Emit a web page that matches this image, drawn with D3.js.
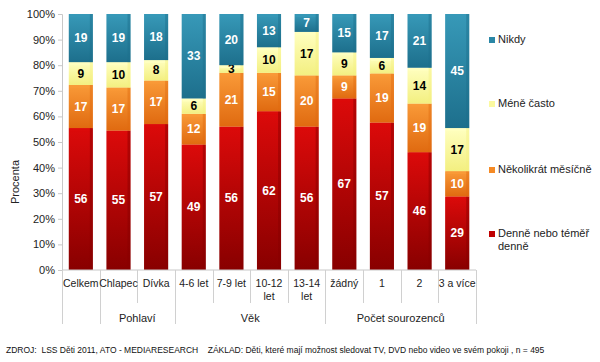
<!DOCTYPE html>
<html>
<head>
<meta charset="utf-8">
<script src="https://cdn.jsdelivr.net/npm/d3@7"></script>
<style>
body{margin:0;background:#fff;}
text{font-family:"Liberation Sans",Arial,sans-serif;}
</style>
</head>
<body>
<div id="chart"></div>
<script>
// categories (line breaks with |)
var categories = ["Celkem","Chlapec","Dívka","4-6 let","7-9 let","10-12|let","13-14|let","žádný","1","2","3 a více"];
var groups = [
	{name:"", from:0, to:0},
	{name:"Pohlaví", from:1, to:2},
	{name:"Věk", from:3, to:6},
	{name:"Počet sourozenců", from:7, to:10}
];
var seriesNames = ["Denně nebo téměř|denně","Několikrát měsíčně","Méně často","Nikdy"];
var denne      = [56,55,57,49,56,62,56,67,57,46,29];
var nekolikrat = [17,17,17,12,21,15,20,9,19,19,10];
var mene       = [9,10,8,6,3,10,17,9,6,14,17];
var nikdy      = [19,19,18,33,20,13,7,15,17,21,45];
var yTicks = [0,0.1,0.2,0.3,0.4,0.5,0.6,0.7,0.8,0.9,1];

var W=600,H=362;
var mLeft=62,mRight=476,mTop=14,mBottom=270;

var svg = d3.select("#chart").append("svg").attr("width",W).attr("height",H);
var defs = svg.append("defs");

var colors = [
	{id:"gRed", light:"#dc0a0a", dark:"#880000", mid:"#c00000", label:"#fff"},
	{id:"gOr", light:"#f99a38", dark:"#e06a10", mid:"#f58a25", label:"#fff"},
	{id:"gYe", light:"#ffffc0", dark:"#f3ef80", mid:"#fbf9a0", label:"#000"},
	{id:"gTe", light:"#3799b8", dark:"#1d6f8c", mid:"#2a87a6", label:"#fff"}
];
colors.forEach(function(c){
	var g = defs.append("linearGradient").attr("id",c.id).attr("x1",0).attr("y1",0).attr("x2",0).attr("y2",1);
	g.append("stop").attr("offset","0%").attr("stop-color",c.light);
	g.append("stop").attr("offset","100%").attr("stop-color",c.dark);
});

// data table for the stack
var table = categories.map(function(c,i){
	return {cat:c, s0:denne[i], s1:nekolikrat[i], s2:mene[i], s3:nikdy[i]};
});
var keys = ["s0","s1","s2","s3"];
var stacked = d3.stack().keys(keys).offset(d3.stackOffsetExpand)(table);

var x = d3.scaleBand().domain(categories).range([mLeft,mRight]).paddingInner(0.36).paddingOuter(0.18);
var y = d3.scaleLinear().domain([0,1]).range([mBottom,mTop]);

// y axis
var yAxis = svg.append("g").attr("transform","translate("+mLeft+",0)")
	.call(d3.axisLeft(y).tickValues(yTicks).tickFormat(d3.format(".0%")).tickSize(4).tickPadding(3));
yAxis.select(".domain").attr("stroke","#c8c8c8");
yAxis.selectAll(".tick line").attr("stroke","#c8c8c8");
yAxis.selectAll("text").attr("font-size","11px").attr("fill","#222").attr("font-family","Liberation Sans, Arial, sans-serif");

svg.append("text").attr("transform","translate(19,182) rotate(-90)")
	.attr("text-anchor","middle").attr("font-size","11px").attr("fill","#222").text("Procenta");

// bars
var layers = svg.selectAll(".layer").data(stacked).enter().append("g").attr("class","layer");
layers.each(function(s,si){
	var c = colors[si];
	var g = d3.select(this);
	g.selectAll("rect.seg").data(s).enter().append("rect").attr("class","seg")
		.attr("x",function(d){return x(d.data.cat);})
		.attr("width",x.bandwidth())
		.attr("y",function(d){return y(d[1]);})
		.attr("height",function(d){return y(d[0])-y(d[1]);})
		.attr("fill","url(#"+c.id+")");
	// small highlight at top of each segment
	g.selectAll("rect.cap").data(s).enter().append("rect").attr("class","cap")
		.attr("x",function(d){return x(d.data.cat)+1;})
		.attr("width",x.bandwidth()-2)
		.attr("y",function(d){return y(d[1]);})
		.attr("height",3)
		.attr("fill",c.light).attr("opacity",0.8);
	// side shading
	g.selectAll("rect.side").data(s).enter().append("rect").attr("class","side")
		.attr("x",function(d){return x(d.data.cat)+x.bandwidth()-3;})
		.attr("width",3)
		.attr("y",function(d){return y(d[1]);})
		.attr("height",function(d){return y(d[0])-y(d[1]);})
		.attr("fill",c.dark).attr("opacity",0.45);
	g.selectAll("text").data(s).enter().append("text")
		.attr("x",function(d){return x(d.data.cat)+x.bandwidth()/2;})
		.attr("y",function(d){return (y(d[0])+y(d[1]))/2+4;})
		.attr("text-anchor","middle").attr("font-size","12px").attr("font-weight","bold")
		.attr("fill",c.label)
		.text(function(d){return d.data[keys[si]];});
});

// bottom axis line and category dividers
var step = x.step();
svg.append("line").attr("x1",mLeft).attr("x2",mRight).attr("y1",mBottom).attr("y2",mBottom).attr("stroke","#c8c8c8");
var groupEdges = {};
groups.forEach(function(g){groupEdges[g.from]=true;});
d3.range(categories.length+1).forEach(function(i){
	var xx = Math.round(mLeft+i*step)+0.5;
	var long = groupEdges[i] || i==categories.length;
	svg.append("line").attr("x1",xx).attr("x2",xx).attr("y1",mBottom).attr("y2",long?324:303)
		.attr("stroke","#d0d0d0");
});

// category labels
categories.forEach(function(c,i){
	var t = svg.append("text").attr("x",x(c)+x.bandwidth()/2).attr("y",287)
		.attr("text-anchor","middle").attr("font-size","10.5px").attr("fill","#222");
	c.split("|").forEach(function(line,li){
		t.append("tspan").attr("x",x(c)+x.bandwidth()/2).attr("dy",li?13:0).text(line);
	});
});

// group labels
groups.forEach(function(g){
	if(!g.name) return;
	var cx = mLeft+(g.from+g.to+1)/2*step;
	svg.append("text").attr("x",cx).attr("y",322).attr("text-anchor","middle")
		.attr("font-size","11px").attr("fill","#222").text(g.name);
});

// legend
var legY = [43,107,173,237];
seriesNames.slice().reverse().forEach(function(n,k){
	var si = 3-k;
	var c = colors[si];
	var ly = legY[k];
	svg.append("rect").attr("x",489).attr("y",ly-6).attr("width",6).attr("height",6).attr("fill",c.mid);
	var t = svg.append("text").attr("x",498).attr("y",ly).attr("font-size","11px").attr("fill","#222");
	n.split("|").forEach(function(line,li){
		t.append("tspan").attr("x",498).attr("dy",li?13:0).text(line);
	});
});

// footer
svg.append("text").attr("x",6).attr("y",353).attr("font-size","8.5px").attr("fill","#111")
	.style("white-space","pre")
	.text("ZDROJ:  LSS Děti 2011, ATO - MEDIARESEARCH    ZÁKLAD: Děti, které mají možnost sledovat TV, DVD nebo video ve svém pokoji , n = 495");
</script>
</body>
</html>
